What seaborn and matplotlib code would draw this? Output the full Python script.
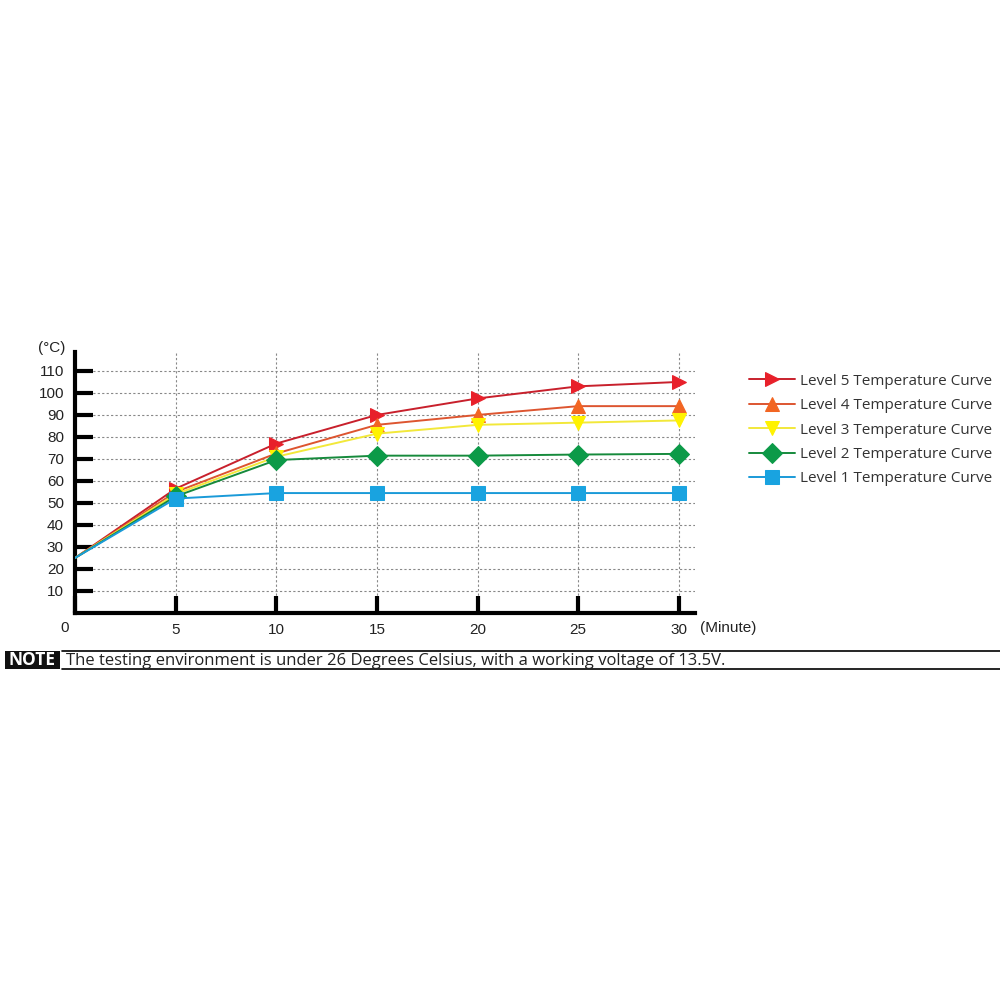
import pandas as pd
import seaborn as sns
import matplotlib.pyplot as plt
from matplotlib.lines import Line2D
from matplotlib.patches import Rectangle

# data
minutes = [0, 5, 10, 15, 20, 25, 30]
level5 = [25, 56.5, 77, 90, 97.5, 103, 105]
level4 = [25, 55, 72.5, 85.5, 90, 94, 94]
level3 = [25, 54, 71, 81.5, 85.5, 86.5, 87.5]
level2 = [25, 53, 69.5, 71.5, 71.5, 72, 72.3]
level1 = [25, 52, 54.5, 54.5, 54.5, 54.5, 54.5]

labels = ["Level 5 Temperature Curve", "Level 4 Temperature Curve",
          "Level 3 Temperature Curve", "Level 2 Temperature Curve",
          "Level 1 Temperature Curve"]
series = [level5, level4, level3, level2, level1]
line_colors = ["#c8202c", "#dd5530", "#f2e83a", "#168a3c", "#1a9ad8"]
marker_colors = ["#e8202a", "#f26522", "#fff200", "#0c9a48", "#19a3e0"]
markers = [">", "^", "v", "D", "s"]
msizes = [12, 11, 11, 10, 10.5]

sns.set_style("white")
plt.rcParams['font.family'] = ['Liberation Sans', 'DejaVu Sans']

fig = plt.figure(figsize=(10, 10), dpi=100)
ax = fig.add_axes([0.075, 0.387, 0.62, 0.261])

for lab, vals, lc, mc, mk, ms in zip(labels, series, line_colors, marker_colors, markers, msizes):
    df = pd.DataFrame({"minute": minutes, "temp": vals})
    sns.lineplot(data=df, x="minute", y="temp", ax=ax, color=lc, lw=1.4,
                 marker=mk, markersize=ms, markerfacecolor=mc,
                 markeredgecolor=mc, markevery=list(range(1, len(vals))),
                 label=lab, zorder=3)

ax.set_xlim(0, 30.8)
ax.set_ylim(0, 118.6)
ax.set_xticks([0, 5, 10, 15, 20, 25, 30])
ax.set_xticklabels(["", "5", "10", "15", "20", "25", "30"])
ax.set_yticks(range(10, 111, 10))
ax.set_xlabel("")
ax.set_ylabel("")
ax.tick_params(axis="both", direction="in", width=3,
               color="black", labelsize=11, labelcolor="#222222",
               bottom=True, left=True)
ax.tick_params(axis="x", length=12, pad=7)
ax.tick_params(axis="y", length=13, pad=8)
ax.grid(True, linestyle=(0, (2, 2)), color="#888888", lw=0.8)
ax.set_axisbelow(True)
for s in ["top", "right"]:
    ax.spines[s].set_visible(False)
for s in ["left", "bottom"]:
    ax.spines[s].set_linewidth(3)
    ax.spines[s].set_color("black")

handles, labs = ax.get_legend_handles_labels()
for h in handles:
    h.set_markersize(10)
ax.legend(handles, labs, loc="upper left", bbox_to_anchor=(1.065, 0.97),
          frameon=False, prop={"family": "Open Sans", "size": 11},
          handlelength=3.0, labelspacing=0.62, handletextpad=0.35,
          labelcolor="#333333")

fig.text(0.065, 0.372, "0", fontsize=11, color="#222222", ha="center", va="center")
fig.text(0.052, 0.652, "(°C)", fontsize=11, color="#222222", ha="center", va="center")
fig.text(0.728, 0.372, "(Minute)", fontsize=11, color="#222222", ha="center", va="center")

# NOTE bar
fig.patches.append(Rectangle((0.005, 0.331), 0.055, 0.018, transform=fig.transFigure,
                             facecolor="#111111", edgecolor="none"))
fig.text(0.0325, 0.340, "NOTE", color="white", fontsize=12.5, fontweight="bold",
         ha="center", va="center", family="Open Sans")
fig.lines.append(Line2D([0.062, 1.0], [0.349, 0.349], transform=fig.transFigure,
                        color="black", lw=1.2))
fig.lines.append(Line2D([0.062, 1.0], [0.331, 0.331], transform=fig.transFigure,
                        color="black", lw=1.2))
fig.text(0.066, 0.339, "The testing environment is under 26 Degrees Celsius, with a working voltage of 13.5V.",
         fontsize=12, color="#222222", ha="left", va="center", family="Open Sans")

fig.savefig("out.png", dpi=100)
